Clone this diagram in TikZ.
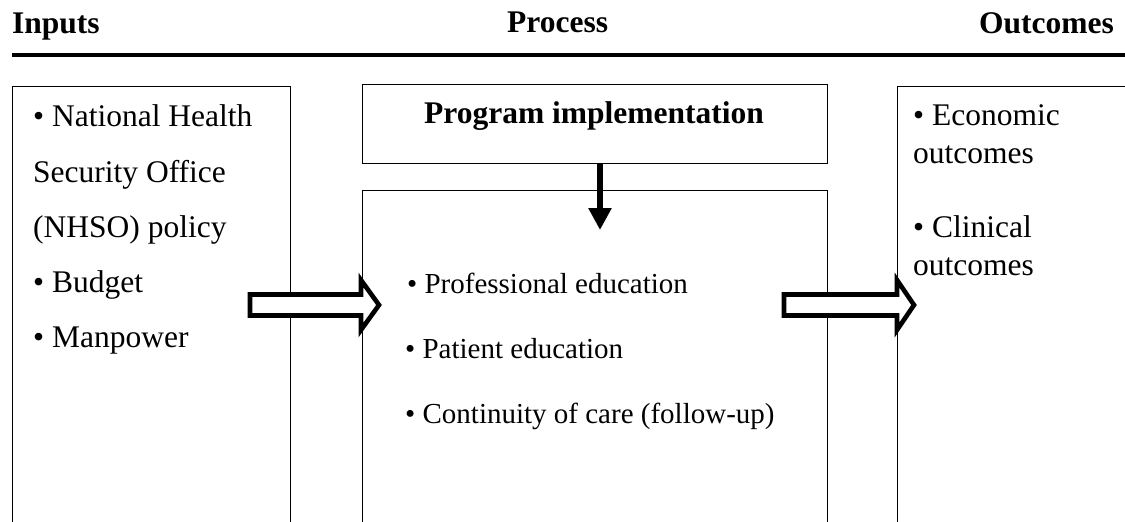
\documentclass[tikz,border=0pt]{standalone}
\usepackage{fontspec}
\setmainfont{Liberation Serif}
\usetikzlibrary{arrows.meta}
\begin{document}
\begin{tikzpicture}[x=1pt,y=-1pt,
  box/.style={draw, line width=1.4pt, anchor=north west, inner sep=0pt},
  txt/.style={anchor=base west, inner sep=0pt, font=\fontsize{31.5}{36}\selectfont},
  mtxt/.style={anchor=base west, inner sep=0pt, font=\fontsize{29}{34}\selectfont},
  head/.style={inner sep=0pt, font=\fontsize{31.5}{36}\selectfont\bfseries},
  blockarrow/.style={draw, fill=white, line width=4.6pt, line join=miter},
  downarrow/.style={line width=6pt, -{Triangle[width=22pt,length=22pt]}}]
\useasboundingbox (0,0) rectangle (1125,522);
\clip (0,0) rectangle (1125,522);
\fill[white] (0,0) rectangle (1125,522);
% headers
\node[head, anchor=base west] (hin) at (12,33) {Inputs};
\node[head, anchor=base west] (hproc) at (507,32) {Process};
\node[head, anchor=base east] (hout) at (1114,33) {Outcomes};
\draw[line width=4pt] (12,55) -- (1130,55);
% boxes
\node[box, minimum width=278pt, minimum height=460pt] (inbox) at (12,86) {};
\node[box, minimum width=465pt, minimum height=79pt] (prog) at (362,84) {};
\node[box, minimum width=465pt, minimum height=360pt] (proc) at (362,190) {};
\node[box, minimum width=260pt, minimum height=460pt] (outbox) at (897,86) {};
% inputs text
\node[txt] (in1) at (33,126) {• National Health};
\node[txt] (in2) at (33,182) {Security Office};
\node[txt] (in3) at (33,237) {(NHSO) policy};
\node[txt] (in4) at (33,292) {• Budget};
\node[txt] (in5) at (33,347) {• Manpower};
% process text
\node[head, anchor=base] (progtxt) at (594,123) {Program implementation};
\node[mtxt] (p1) at (407,293) {• Professional education};
\node[mtxt] (p2) at (405,358) {• Patient education};
\node[mtxt] (p3) at (405,423) {• Continuity of care (follow-up)};
% outcomes text
\node[txt] (o1) at (913,125) {• Economic};
\node[txt] (o2) at (913,163) {outcomes};
\node[txt] (o3) at (913,237) {• Clinical};
\node[txt] (o4) at (913,275) {outcomes};
% down arrow
\coordinate (dtip) at (600,230);
\draw[downarrow] (prog.south -| dtip) -- (dtip);
% block arrows
\coordinate (a1) at (250,305);
\draw[blockarrow] (a1) ++(0,-10.5) -- ++(111,0) -- ++(0,-14.5) -- ++(18,25) -- ++(-18,25) -- ++(0,-14.5) -- ++(-111,0) -- cycle;
\coordinate (a2) at (784,305);
\draw[blockarrow] (a2) ++(0,-10.5) -- ++(113,0) -- ++(0,-14.5) -- ++(17,25) -- ++(-17,25) -- ++(0,-14.5) -- ++(-113,0) -- cycle;
\end{tikzpicture}
\end{document}
